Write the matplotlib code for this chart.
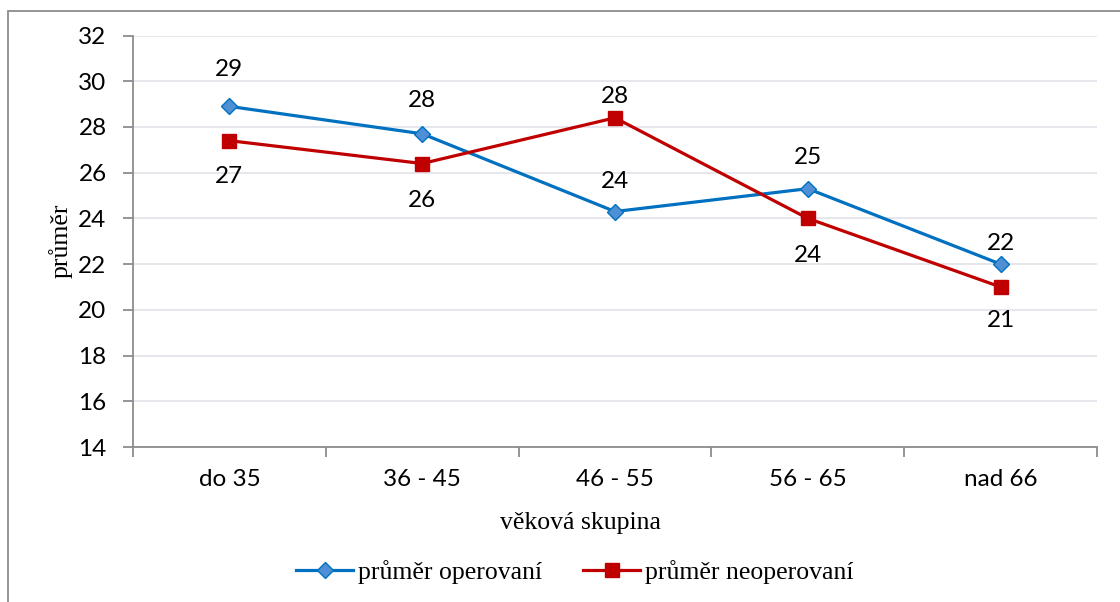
import matplotlib
matplotlib.use("Agg")
import matplotlib.pyplot as plt
from matplotlib.patches import Rectangle

categories = ["do 35", "36 - 45", "46 - 55", "56 - 65", "nad 66"]
operovani = [28.9, 27.7, 24.3, 25.3, 22.0]
neoperovani = [27.4, 26.4, 28.4, 24.0, 21.0]
y_ticks = [14, 16, 18, 20, 22, 24, 26, 28, 30, 32]

# vertical offsets of the value labels, in pixels (positive = above)
off_oper = [37, 33, 30, 31, 21]
off_neop = [-36, -37, 21, -37, -34]

W, H = 1120, 602
fig = plt.figure(figsize=(W / 100, H / 100), dpi=100)
fig.patch.set_facecolor("white")

# outer chart frame
fig.patches.append(Rectangle((8 / W, -0.05), 1.2, 1 - 10.5 / H + 0.05,
                             transform=fig.transFigure, fill=False,
                             edgecolor="#8c8c8c", linewidth=1.3))

ax = fig.add_axes([133 / W, 1 - 447 / H, (1097 - 133) / W, (447 - 35.5) / H])

x = list(range(len(categories)))
blue, blue_fill = "#0070C0", "#4F8FD6"
red = "#C00000"

l1, = ax.plot(x, operovani, color=blue, lw=2.3, marker="D", markersize=8.5,
              markerfacecolor=blue_fill, markeredgecolor=blue,
              markeredgewidth=1.0, label="průměr operovaní", zorder=3)
l2, = ax.plot(x, neoperovani, color=red, lw=2.3, marker="s", markersize=10,
              markerfacecolor=red, markeredgecolor=red,
              label="průměr neoperovaní", zorder=4)

label_font = dict(family="Lato", size=17.5, color="black")
for xi, v, o in zip(x, operovani, off_oper):
    ax.annotate(f"{v:.0f}", (xi, v), xytext=(0, o * 0.72),
                textcoords="offset points", ha="center", va="center",
                **label_font)
for xi, v, o in zip(x, neoperovani, off_neop):
    ax.annotate(f"{v:.0f}", (xi, v), xytext=(0, o * 0.72),
                textcoords="offset points", ha="center", va="center",
                **label_font)

ax.set_xlim(-0.5, len(categories) - 0.5)
ax.set_ylim(14, 32)
ax.set_yticks(y_ticks)
ax.set_yticklabels([str(t) for t in y_ticks], fontfamily="Lato", fontsize=17.5)

ax.set_xticks(x)
ax.set_xticklabels(categories, fontfamily="Lato", fontsize=17.5)
ax.set_xticks([i - 0.5 for i in range(len(categories) + 1)], minor=True)
ax.tick_params(axis="x", which="major", length=0, pad=16)
ax.tick_params(axis="x", which="minor", length=7, width=1.3, color="#8c8c8c")
ax.tick_params(axis="y", length=7, width=1.3, color="#8c8c8c", pad=12)

ax.grid(axis="y", color="#E4E4EC", linewidth=1.3, zorder=0)
ax.set_axisbelow(True)
for s in ["top", "right"]:
    ax.spines[s].set_visible(False)
for s in ["left", "bottom"]:
    ax.spines[s].set_color("#8c8c8c")
    ax.spines[s].set_linewidth(1.3)

serif = dict(family="Liberation Serif", size=18.5, color="black")
fig.text(580 / W, 1 - 523 / H, "věková skupina", ha="center", va="center", **serif)
fig.text(61 / W, 1 - 241 / H, "průměr", ha="center", va="center",
         rotation=90, **serif)

fig.legend(handles=[l1, l2], loc="center", bbox_to_anchor=(575 / W, 1 - 572 / H),
           ncol=2, frameon=False, prop={"family": "Liberation Serif", "size": 18.5},
           handlelength=2.2, handletextpad=0.2, columnspacing=1.6,
           borderaxespad=0)

fig.savefig("out.png", dpi=100, facecolor="white")
